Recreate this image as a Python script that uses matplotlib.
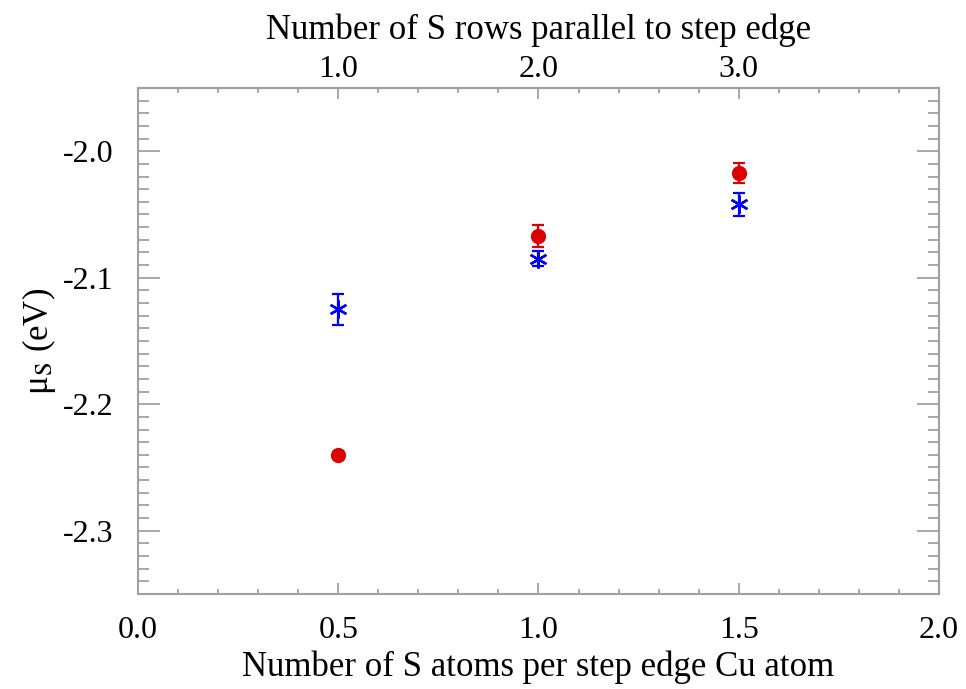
import matplotlib
matplotlib.use("Agg")
import matplotlib.pyplot as plt
from matplotlib.ticker import MultipleLocator, FixedLocator, FormatStrFormatter

plt.rcParams["font.family"] = "Liberation Serif"
plt.rcParams["mathtext.fontset"] = "stix"
plt.rcParams["axes.unicode_minus"] = False

# data
s_per_cu = [0.5, 1.0, 1.5]
red_mu = [-2.240, -2.067, -2.017]
red_err = [0.002, 0.009, 0.008]
blue_mu = [-2.125, -2.085, -2.042]
blue_err = [0.012, 0.006, 0.009]
top_ticks = [0.5, 1.0, 1.5]
top_labels = ["1.0", "2.0", "3.0"]

axis_col = "#a0a0a0"
fs_tick = 23
fs_lab = 25

fig = plt.figure(figsize=(9.66, 6.89), dpi=100)
ax = fig.add_axes([0.1429, 0.1379, 0.9720 - 0.1429, 0.8723 - 0.1379])

ax.errorbar(s_per_cu, red_mu, yerr=red_err, fmt="o", color="#dd0000",
            markersize=10, capsize=4, elinewidth=1.6, capthick=1.6)
ax.errorbar(s_per_cu, blue_mu, yerr=blue_err, fmt="none", ecolor="#0000ff",
            capsize=4, elinewidth=1.6, capthick=1.6)
ax.plot(s_per_cu, blue_mu, linestyle="none", marker=(6, 2, 0), color="#0000ff",
        markersize=13, markeredgewidth=1.7)

ax.set_xlim(0, 2.0)
ax.set_ylim(-2.35, -1.95)
ax.xaxis.set_major_locator(MultipleLocator(0.5))
ax.xaxis.set_minor_locator(MultipleLocator(0.1))
ax.yaxis.set_major_locator(MultipleLocator(0.1))
ax.yaxis.set_minor_locator(MultipleLocator(0.01))
ax.xaxis.set_major_formatter(FormatStrFormatter("%.1f"))
ax.yaxis.set_major_formatter(FormatStrFormatter("%.1f"))

for s in ax.spines.values():
    s.set_color(axis_col)
    s.set_linewidth(1.5)

ax.tick_params(axis="x", which="major", direction="in", length=8, width=1.3,
               color=axis_col, labelsize=fs_tick, pad=16, top=False)
ax.tick_params(axis="x", which="minor", direction="in", length=3.5, width=1.3,
               color=axis_col, top=False)
ax.tick_params(axis="y", which="major", direction="in", length=16, width=1.3,
               color=axis_col, labelsize=fs_tick, pad=18, right=True)
ax.tick_params(axis="y", which="minor", direction="in", length=8, width=1.3,
               color=axis_col, right=True)

ax.set_xlabel("Number of S atoms per step edge Cu atom", fontsize=fs_lab)
ax.xaxis.set_label_coords(0.5, -0.112)
ax.set_ylabel("μ$_{\\mathrm{S}}$ (eV)", fontsize=fs_lab)
ax.yaxis.set_label_coords(-0.10, 0.5)

top = ax.secondary_xaxis("top")
top.xaxis.set_major_locator(FixedLocator(top_ticks))
top.set_xticklabels(top_labels)
top.xaxis.set_minor_locator(MultipleLocator(0.1))
top.spines["top"].set_color(axis_col)
top.spines["top"].set_linewidth(1.5)
top.tick_params(which="major", direction="in", length=8, width=1.3,
                color=axis_col, labelsize=fs_tick, pad=3)
top.tick_params(which="minor", direction="in", length=3.5, width=1.3,
                color=axis_col)
# top axis title (secondary axis ignores label coords, so place it directly)
fig.text(0.5575, 0.956, "Number of S rows parallel to step edge",
         fontsize=fs_lab, ha="center", va="center")

fig.savefig("out.png", dpi=100)
